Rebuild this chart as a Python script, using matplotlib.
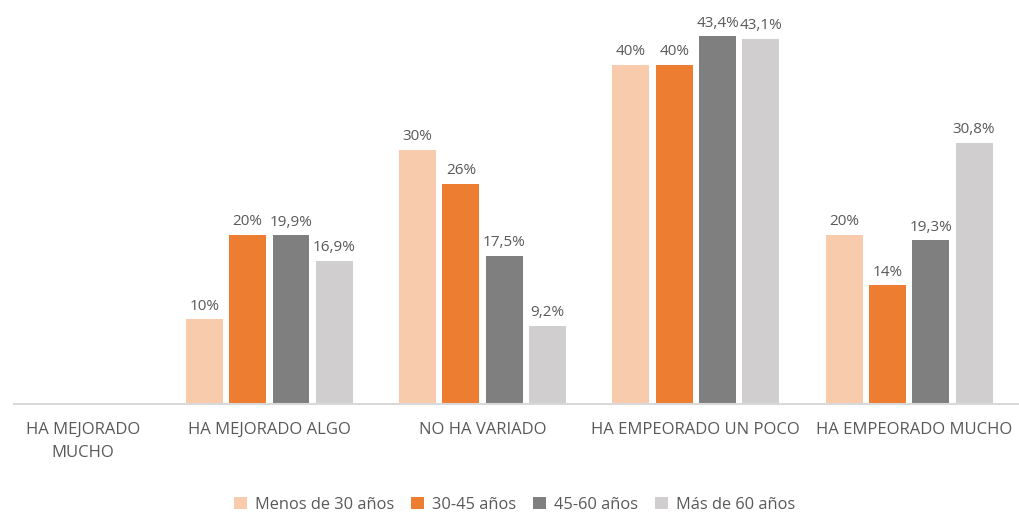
import matplotlib.pyplot as plt
import numpy as np
from matplotlib.transforms import ScaledTranslation

categories = ["HA MEJORADO\nMUCHO", "HA MEJORADO ALGO", "NO HA VARIADO",
              "HA EMPEORADO UN POCO", "HA EMPEORADO MUCHO"]
series = ["Menos de 30 años", "30-45 años", "45-60 años", "Más de 60 años"]
menos_30 = [0, 10, 30, 40, 20]
de_30_45 = [0, 20, 26, 40, 14]
de_45_60 = [0, 19.9, 17.5, 43.4, 19.3]
mas_60 = [0, 16.9, 9.2, 43.1, 30.8]
values = [menos_30, de_30_45, de_45_60, mas_60]
colors = ["#F8CBAD", "#ED7D31", "#7F7F7F", "#D0CECE"]

TEXT = "#595959"
plt.rcParams["font.family"] = ["Open Sans", "DejaVu Sans"]


def fmt(v):
    if float(v).is_integer():
        return f"{v:.0f}%"
    return f"{v:.1f}%".replace(".", ",")


fig = plt.figure(figsize=(10.19, 5.12), dpi=100)
ax = fig.add_axes([14 / 1019, 1 - 404 / 512, 1 - 14 / 1019, 404 / 512])

x = np.arange(len(categories))
step = 0.203
width = 0.173
for i, (name, vals, c) in enumerate(zip(series, values, colors)):
    off = (i - 1.5) * step
    bars = ax.bar(x + off, vals, width=width, color=c, label=name, zorder=2)
    for b, v in zip(bars, vals):
        if v > 0:
            ax.annotate(fmt(v), (b.get_x() + b.get_width() / 2, v),
                        xytext=(0, 4), textcoords="offset points",
                        ha="center", va="bottom", fontsize=11, color=TEXT)

ax.set_xlim(-0.197, 4.515)
ax.set_ylim(0, 47.67)
ax.set_yticks([])
for s in ("top", "right", "left"):
    ax.spines[s].set_visible(False)
ax.spines["bottom"].set_color("#D9D9D9")
ax.spines["bottom"].set_linewidth(1.5)

ax.set_xticks(x)
ax.set_xticklabels(categories, fontsize=12, color=TEXT, linespacing=1.55)
ax.tick_params(axis="x", length=0, pad=13)
# first label sits right of its slot so it is not cut at the edge
lbl = ax.get_xticklabels()[0]
lbl.set_transform(lbl.get_transform() + ScaledTranslation(0.27, 0, fig.dpi_scale_trans))
# last label sits a little right of its bar group
lbl = ax.get_xticklabels()[-1]
lbl.set_transform(lbl.get_transform() + ScaledTranslation(0.05, 0, fig.dpi_scale_trans))

fig.legend(loc="lower center", bbox_to_anchor=(0.505, -0.03), ncol=4, frameon=False,
           fontsize=11.8, labelcolor=TEXT, handlelength=0.8, handleheight=0.8,
           handletextpad=0.5, columnspacing=1.0)

fig.savefig("out.png", dpi=100)
